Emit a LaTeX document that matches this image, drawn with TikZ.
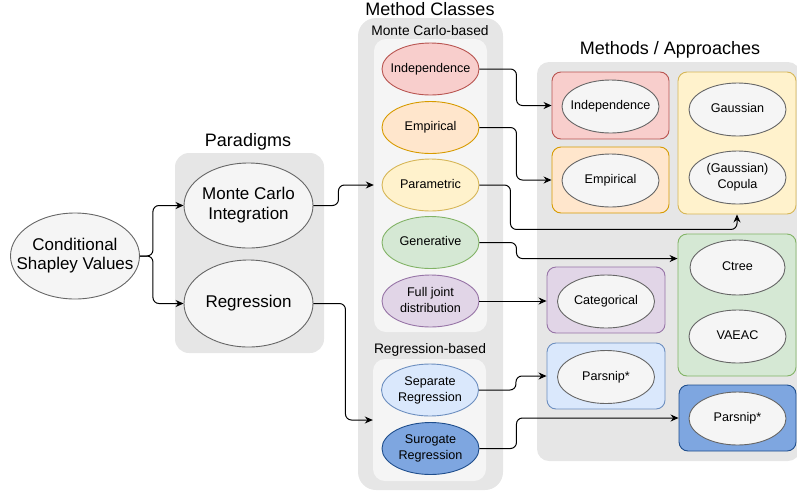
\documentclass[tikz,border=0pt]{standalone}
\usepackage{fontspec}
\setmainfont{Liberation Sans}
\usetikzlibrary{shapes.geometric,arrows.meta}
\definecolor{grayfill}{HTML}{E6E6E6}
\definecolor{lightfill}{HTML}{F5F5F5}
\definecolor{grayline}{HTML}{666666}
\definecolor{redfill}{HTML}{F8CECC}\definecolor{redline}{HTML}{B85450}
\definecolor{orfill}{HTML}{FFE6CC}\definecolor{orline}{HTML}{D79B00}
\definecolor{yelfill}{HTML}{FFF2CC}\definecolor{yelline}{HTML}{D6B656}
\definecolor{grfill}{HTML}{D5E8D4}\definecolor{grline}{HTML}{82B366}
\definecolor{pufill}{HTML}{E1D5E7}\definecolor{puline}{HTML}{9673A6}
\definecolor{blfill}{HTML}{DAE8FC}\definecolor{blline}{HTML}{6C8EBF}
\definecolor{dbfill}{HTML}{7EA6E0}\definecolor{dbline}{HTML}{1F4E8C}
\newcommand\ctext[1]{\makebox[0pt]{\begin{tabular}{@{}c@{}}#1\end{tabular}}}
\tikzset{
  bigfont/.style={font=\fontsize{17}{19.5}\selectfont},
  smallfont/.style={font=\fontsize{12.6}{16}\selectfont},
  titlefont/.style={font=\fontsize{18}{20}\selectfont},
  subfont/.style={font=\fontsize{13.8}{16}\selectfont},
  ell/.style={ellipse, draw=grayline, fill=lightfill, line width=0.9pt, inner sep=0pt},
  bigell/.style={ell, bigfont, minimum width=129pt, minimum height=86pt},
  mcell/.style={ell, smallfont, minimum width=97pt, minimum height=52pt},
  rell/.style={ell, smallfont, minimum width=97pt, minimum height=53pt},
  bg/.style={rectangle, draw=none, fill=grayfill, rounded corners=14pt, inner sep=0pt},
  inbg/.style={rectangle, draw=none, fill=lightfill, rounded corners=12pt, inner sep=0pt},
  cbox/.style={rectangle, rounded corners=9pt, line width=0.9pt, inner sep=0pt},
  arr/.style={-{Stealth[length=8pt,width=7pt]}, line width=1pt, rounded corners=6pt},
}
\begin{document}
\begin{tikzpicture}[x=1pt,y=-1pt]
\useasboundingbox (0,0) rectangle (797,496);
% backgrounds
\node[bg, minimum width=149pt, minimum height=200pt] (parbg) at (249.5,253) {};
\node[bg, minimum width=145pt, minimum height=472pt, rounded corners=18pt] (mcbg) at (430.5,254) {};
\node[inbg, minimum width=113pt, minimum height=293pt] (mcin) at (430.5,185.5) {};
\node[inbg, minimum width=113pt, minimum height=122pt] (rgin) at (429.5,420) {};
\node[bg, minimum width=263pt, minimum height=399pt, rounded corners=12pt] (mabg) at (668.5,261.5) {};
% titles
\node[titlefont] (t1) at (248,142) {Paradigms};
\node[titlefont] (t2) at (430,9) {Method Classes};
\node[subfont] (t3) at (430,31) {Monte Carlo-based};
\node[subfont] (t4) at (430,350) {Regression-based};
\node[titlefont] (t5) at (670,50) {Methods / Approaches};
% left
\node[bigell] (csv) at (75,256) {\ctext{Conditional\\Shapley Values}};
\node[bigell, minimum height=85pt] (mci) at (248.5,205.5) {\ctext{Monte Carlo\\Integration}};
\node[bigell, minimum height=87pt] (reg) at (248.5,303.5) {\ctext{Regression}};
% method classes
\node[mcell, draw=redline, fill=redfill] (ind) at (430.5,69) {\ctext{Independence}};
\node[mcell, draw=orline, fill=orfill] (emp) at (430.5,127.5) {\ctext{Empirical}};
\node[mcell, draw=yelline, fill=yelfill] (par) at (430.5,185) {\ctext{Parametric}};
\node[mcell, draw=grline, fill=grfill] (gen) at (430.5,242.5) {\ctext{Generative}};
\node[mcell, draw=puline, fill=pufill] (full) at (430.5,301) {\ctext{Full joint\\distribution}};
\node[mcell, draw=blline, fill=blfill] (sep) at (430,390) {\ctext{Separate\\Regression}};
\node[mcell, draw=dbline, fill=dbfill] (sur) at (430.5,448.5) {\ctext{Surogate\\Regression}};
% right boxes
\node[cbox, draw=redline, fill=redfill, minimum width=117pt, minimum height=67pt] (rind) at (610.5,105.5) {};
\node[cbox, draw=orline, fill=orfill, minimum width=117pt, minimum height=66pt] (remp) at (610.5,180) {};
\node[cbox, draw=yelline, fill=yelfill, minimum width=118pt, minimum height=142pt] (rgau) at (737,143) {};
\node[cbox, draw=grline, fill=grfill, minimum width=118pt, minimum height=142pt] (rgen) at (737,305) {};
\node[cbox, draw=puline, fill=pufill, minimum width=118pt, minimum height=66pt] (rcat) at (606,300) {};
\node[cbox, draw=blline, fill=blfill, minimum width=118pt, minimum height=66pt] (rpa) at (606,376) {};
\node[cbox, draw=dbline, fill=dbfill, minimum width=117pt, minimum height=66pt] (rpb) at (737.5,418) {};
% right ellipses
\node[rell] (eind) at (610.5,106.5) {\ctext{Independence}};
\node[rell] (eemp) at (610.5,180.5) {\ctext{Empirical}};
\node[rell] (egau) at (737.5,109.5) {\ctext{Gaussian}};
\node[rell] (ecop) at (737.5,177.5) {\ctext{(Gaussian)\\Copula}};
\node[rell, minimum width=95pt, minimum height=55pt] (ectr) at (737.5,267.5) {\ctext{Ctree}};
\node[rell] (evae) at (737.5,336.5) {\ctext{VAEAC}};
\node[rell] (ecat) at (606,301.5) {\ctext{Categorical}};
\node[rell] (epa) at (606,377) {\ctext{Parsnip*}};
\node[rell] (epb) at (737.5,418.5) {\ctext{Parsnip*}};
% connectors
\draw[arr] (csv.east) -- ++(13,0) |- (mci.west);
\draw[arr] (csv.east) -- ++(13,0) |- (reg.west);
\draw[arr] (mci.east) -- ++(25,0) |- (mcin.west |- par.west);
\draw[arr] (reg.east) -- ++(32,0) |- (rgin.west);
\draw[arr] (ind.east) -- ++(37,0) |- (rind.west);
\draw[arr] (emp.east) -- ++(37,0) |- (remp.west);
\draw[arr] (par.east) -- ++(31,0) |- ([yshift=-15pt]rgau.south) -- (rgau.south);
\draw[arr] (gen.east) -- ++(37,0) |- ([yshift=-25pt]rgen.north west);
\draw[arr] (full.east) -- (rcat.west |- full.east);
\draw[arr] (sep.east) -- ++(37,0) |- (rpa.west);
\draw[arr] (sur.east) -- ++(37,0) |- (rpb.west);
\end{tikzpicture}
\end{document}
